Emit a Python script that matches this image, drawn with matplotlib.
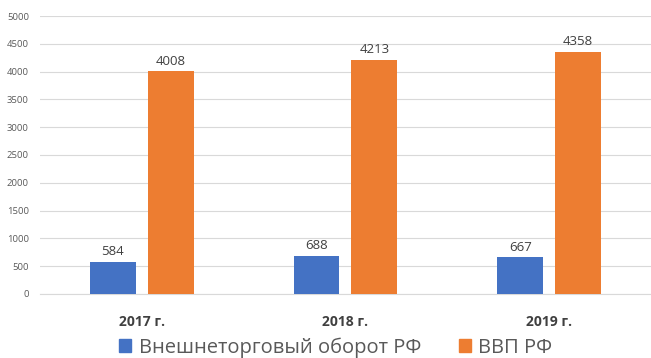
import numpy as np
import matplotlib
matplotlib.use("Agg")
import matplotlib.pyplot as plt
from matplotlib.patches import Patch

years = ["2017 г.", "2018 г.", "2019 г."]
trade = [584, 688, 667]
gdp = [4008, 4213, 4358]
series_names = ["Внешнеторговый оборот РФ", "ВВП РФ"]
yticks = list(range(0, 5001, 500))

blue = "#4472C4"
orange = "#ED7D31"

plt.rcParams["font.family"] = ["Open Sans", "DejaVu Sans"]

fig = plt.figure(figsize=(6.51, 3.58), dpi=100)
ax = fig.add_axes([0.0614, 0.1788, 0.9386, 0.7765])

x = np.arange(len(years))
w = 0.225
off = 0.142
b1 = ax.bar(x - off, trade, w, color=blue, zorder=3)
b2 = ax.bar(x + off, gdp, w, color=orange, zorder=3)

for bars in (b1, b2):
    for r in bars:
        ax.text(r.get_x() + r.get_width() / 2, r.get_height() + 60, str(int(r.get_height())),
                ha="center", va="bottom", fontsize=9.5, color="#404040")

ax.set_xlim(-0.5, 2.5)
ax.set_ylim(0, 5000)
ax.set_yticks(yticks)
ax.set_yticklabels([str(t) for t in yticks], fontsize=6.8, color="#595959")
ax.set_xticks(x)
ax.set_xticklabels(years, fontsize=10, fontweight="bold", color="#404040")
ax.tick_params(axis="both", length=0)
ax.tick_params(axis="x", pad=15)
ax.tick_params(axis="y", pad=8)
ax.grid(axis="y", color="#D9D9D9", linewidth=0.8, zorder=0)
for s in ["top", "right", "left"]:
    ax.spines[s].set_visible(False)
ax.spines["bottom"].set_color("#D9D9D9")

handles = [Patch(color=blue), Patch(color=orange)]
fig.legend(handles, series_names, loc="lower center", bbox_to_anchor=(0.516, -0.05), ncol=2,
           frameon=False, fontsize=14.5, labelcolor="#595959", handlelength=0.6, handleheight=0.6,
           handletextpad=0.35, columnspacing=1.9)

fig.savefig("out.png", dpi=100)
